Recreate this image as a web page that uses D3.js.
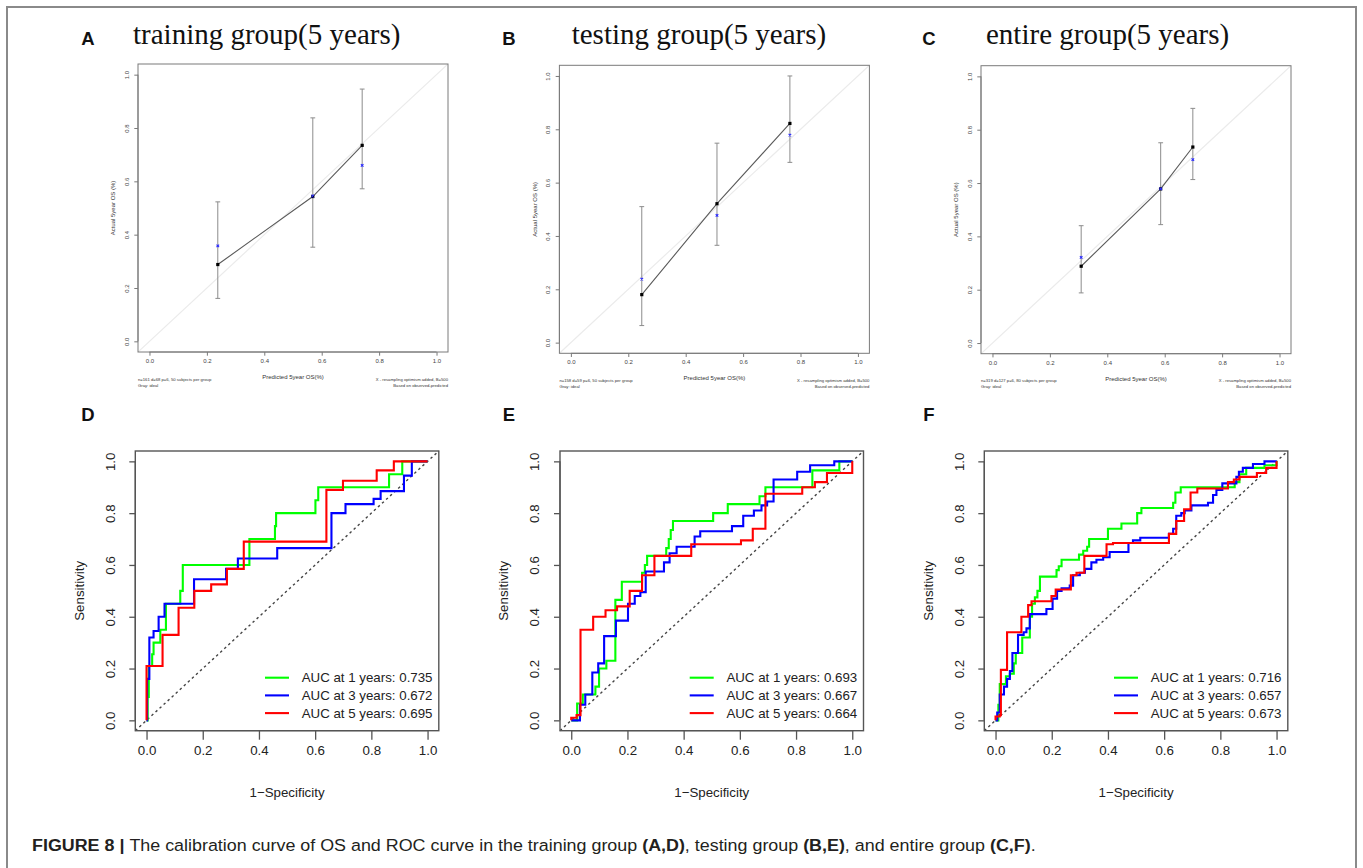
<!DOCTYPE html>
<html>
<head>
<meta charset="utf-8">
<script src="https://cdn.jsdelivr.net/npm/d3@7"></script>
<style>
  html, body { margin: 0; padding: 0; background: #fff; }
  svg { display: block; }
</style>
</head>
<body>
<svg id="fig" width="1363" height="868"></svg>
<script>
// ---------- Calibration curves (5-year OS) ----------
const calibTitles = ["training group(5 years)", "testing group(5 years)", "entire group(5 years)"];
const calibLetters = ["A", "B", "C"];
const calibPredicted = [[0.238, 0.569, 0.741], [0.247, 0.509, 0.763], [0.309, 0.586, 0.698]];
const calibObserved  = [[0.288, 0.543, 0.735], [0.180, 0.521, 0.822], [0.288, 0.578, 0.735]];
const calibCorrected = [[0.358, 0.545, 0.660], [0.238, 0.477, 0.778], [0.321, 0.578, 0.688]];
const calibLower     = [[0.161, 0.353, 0.572], [0.064, 0.365, 0.676], [0.188, 0.444, 0.613]];
const calibUpper     = [[0.523, 0.838, 0.946], [0.510, 0.748, 1.000], [0.440, 0.751, 0.880]];
const calibNotes = [
  "n=161 d=68 p=6, 50 subjects per group",
  "n=158 d=59 p=6, 50 subjects per group",
  "n=319 d=127 p=6, 80 subjects per group"
];
const calibTicks = [0, 0.2, 0.4, 0.6, 0.8, 1.0];

// ---------- Time-dependent ROC curves: [1-specificity, sensitivity] ----------
const rocLetters = ["D", "E", "F"];
const rocYears = [1, 3, 5];
const rocColors = ["#00ff00", "#0000ff", "#ff0000"];
const rocTicks = [0, 0.2, 0.4, 0.6, 0.8, 1.0];

const trainRoc1 = [[0,0],[0.004,0.09],[0.008,0.21],[0.02,0.255],[0.025,0.30],[0.049,0.35],[0.069,0.45],[0.12,0.50],[0.129,0.60],[0.366,0.70],[0.457,0.75],[0.461,0.80],[0.601,0.85],[0.611,0.90],[0.863,0.95],[0.91,1.0],[1,1]];
const trainRoc3 = [[0,0],[0.002,0.16],[0.01,0.32],[0.025,0.345],[0.043,0.40],[0.064,0.45],[0.169,0.545],[0.283,0.585],[0.325,0.625],[0.465,0.665],[0.658,0.80],[0.708,0.835],[0.808,0.855],[0.833,0.885],[0.916,0.945],[0.944,1.0],[1,1]];
const trainRoc5 = [[0,0],[0,0.21],[0.057,0.33],[0.114,0.435],[0.17,0.50],[0.23,0.525],[0.286,0.585],[0.346,0.69],[0.64,0.89],[0.699,0.925],[0.819,0.965],[0.88,1.0],[1,1]];

const testRoc1 = [[0,0],[0.021,0.065],[0.041,0.10],[0.086,0.13],[0.099,0.20],[0.125,0.23],[0.157,0.465],[0.18,0.535],[0.252,0.57],[0.262,0.60],[0.27,0.635],[0.338,0.665],[0.347,0.70],[0.354,0.735],[0.362,0.77],[0.505,0.80],[0.557,0.835],[0.67,0.865],[0.691,0.90],[0.858,0.965],[0.954,1.0],[1,1]];
const testRoc3 = [[0,0],[0.031,0.06],[0.05,0.10],[0.075,0.185],[0.096,0.22],[0.117,0.325],[0.159,0.385],[0.202,0.45],[0.226,0.48],[0.246,0.495],[0.265,0.575],[0.33,0.61],[0.35,0.645],[0.375,0.67],[0.439,0.71],[0.459,0.73],[0.572,0.75],[0.612,0.79],[0.65,0.81],[0.677,0.83],[0.697,0.845],[0.72,0.93],[0.804,0.96],[0.85,0.985],[0.936,1.0],[1,1]];
const testRoc5 = [[0,0],[0,0.01],[0.019,0.02],[0.033,0.35],[0.078,0.40],[0.122,0.425],[0.163,0.44],[0.208,0.50],[0.252,0.56],[0.296,0.635],[0.427,0.68],[0.604,0.695],[0.646,0.74],[0.691,0.875],[0.822,0.90],[0.867,0.92],[0.91,0.955],[1,1]];

const entireRoc1 = [[0,0],[0.01,0.06],[0.015,0.14],[0.037,0.17],[0.051,0.18],[0.065,0.22],[0.072,0.26],[0.095,0.32],[0.122,0.40],[0.13,0.45],[0.14,0.475],[0.149,0.50],[0.158,0.555],[0.217,0.58],[0.225,0.595],[0.235,0.62],[0.297,0.64],[0.312,0.655],[0.326,0.67],[0.333,0.70],[0.40,0.74],[0.448,0.76],[0.504,0.80],[0.519,0.82],[0.632,0.84],[0.64,0.88],[0.659,0.90],[0.851,0.92],[0.868,0.95],[0.892,0.975],[0.957,0.985],[1,1]];
const entireRoc3 = [[0,0],[0.006,0.03],[0.015,0.10],[0.03,0.13],[0.041,0.16],[0.051,0.19],[0.06,0.26],[0.08,0.33],[0.10,0.34],[0.11,0.355],[0.122,0.41],[0.181,0.43],[0.203,0.47],[0.219,0.50],[0.235,0.51],[0.264,0.52],[0.276,0.56],[0.30,0.57],[0.318,0.585],[0.341,0.61],[0.359,0.62],[0.383,0.63],[0.406,0.65],[0.473,0.685],[0.489,0.695],[0.515,0.705],[0.617,0.72],[0.632,0.74],[0.643,0.79],[0.661,0.80],[0.673,0.81],[0.697,0.83],[0.756,0.84],[0.774,0.87],[0.786,0.89],[0.807,0.915],[0.857,0.94],[0.866,0.96],[0.88,0.975],[0.916,0.99],[0.957,1.0],[1,1]];
const entireRoc5 = [[0,0],[0,0.015],[0.015,0.02],[0.019,0.195],[0.041,0.34],[0.092,0.40],[0.116,0.445],[0.128,0.46],[0.199,0.48],[0.214,0.505],[0.268,0.56],[0.288,0.57],[0.316,0.635],[0.395,0.68],[0.418,0.685],[0.617,0.72],[0.643,0.77],[0.671,0.815],[0.694,0.88],[0.718,0.895],[0.827,0.92],[0.848,0.93],[0.868,0.94],[0.93,0.955],[0.963,0.975],[1,1]];

const trainAuc  = [0.735, 0.672, 0.695];
const testAuc   = [0.693, 0.667, 0.664];
const entireAuc = [0.716, 0.657, 0.673];

const rocCurves = [
  [trainRoc1, trainRoc3, trainRoc5],
  [testRoc1, testRoc3, testRoc5],
  [entireRoc1, entireRoc3, entireRoc5]
];
const rocAucs = [trainAuc, testAuc, entireAuc];

// ---------- drawing ----------
const svg = d3.select("#fig");
const SANS = "'Liberation Sans', Arial, Helvetica, sans-serif";
const SERIF = "'Liberation Serif', 'Times New Roman', serif";

// outer figure frame
svg.append("path")
  .attr("d", "M7,880V7H1356V880")
  .attr("fill", "none").attr("stroke", "#8a8a8a").attr("stroke-width", 2);

function panelLetter(txt, cx, cy) {
  svg.append("text").attr("x", cx).attr("y", cy).attr("dy", "0.36em")
    .attr("text-anchor", "middle").attr("font-family", SANS)
    .attr("font-weight", "bold").attr("font-size", 18.5).attr("fill", "#111")
    .text(txt);
}

// --- calibration panels ---
const calibLeft = [138, 559.4, 981];
const calibTop = [64, 65.3, 65.7];
const letterX = [88, 509, 929];
const titleX = [133, 571.7, 986];

calibTitles.forEach((title, i) => {
  const L = calibLeft[i], T = calibTop[i], W = 310, H = 288;
  const x = d3.scaleLinear().domain([-0.04, 1.04]).range([L, L + W]);
  const y = d3.scaleLinear().domain([-0.04, 1.04]).range([T + H, T]);
  const g = svg.append("g");

  panelLetter(calibLetters[i], letterX[i], 38);
  svg.append("text").attr("x", titleX[i]).attr("y", 44)
    .attr("font-family", SERIF).attr("font-size", 29).attr("fill", "#111")
    .text(title);

  // ideal line
  const clipId = "cclip" + i;
  g.append("clipPath").attr("id", clipId).append("rect")
    .attr("x", L).attr("y", T).attr("width", W).attr("height", H);
  g.append("line").attr("clip-path", `url(#${clipId})`)
    .attr("x1", x(-0.04)).attr("y1", y(-0.04)).attr("x2", x(1.04)).attr("y2", y(1.04))
    .attr("stroke", "#ebebeb").attr("stroke-width", 1.2);

  // box
  g.append("rect").attr("x", L).attr("y", T).attr("width", W).attr("height", H)
    .attr("fill", "none").attr("stroke", "#7a7a7a").attr("stroke-width", 1);

  // x axis
  const xa = g.append("g").attr("transform", `translate(0,${T + H})`)
    .call(d3.axisBottom(x).tickValues(calibTicks).tickFormat(d3.format(".1f")).tickSize(3.7).tickPadding(3));
  xa.select(".domain").attr("d", `M${x(0)},0H${x(1)}`).attr("stroke", "#7a7a7a");
  xa.selectAll(".tick line").attr("stroke", "#7a7a7a");
  xa.selectAll("text").attr("font-family", SANS).attr("font-size", 6).attr("fill", "#444");

  // y axis with rotated labels
  const ya = g.append("g").attr("transform", `translate(${L},0)`)
    .call(d3.axisLeft(y).tickValues(calibTicks).tickFormat(d3.format(".1f")).tickSize(3.7));
  ya.select(".domain").attr("d", `M0,${y(0)}V${y(1)}`).attr("stroke", "#7a7a7a");
  ya.selectAll(".tick line").attr("stroke", "#7a7a7a");
  ya.selectAll("text")
    .attr("x", null).attr("dy", null)
    .attr("transform", "translate(-11.3,0) rotate(-90)")
    .attr("text-anchor", "middle").attr("dy", "0.35em")
    .attr("font-family", SANS).attr("font-size", 6).attr("fill", "#444");

  // axis titles
  g.append("text").attr("x", (x(0) + x(1)) / 2).attr("y", T + H + 25).attr("dy", "0.35em")
    .attr("text-anchor", "middle").attr("font-family", SANS).attr("font-size", 6).attr("fill", "#333")
    .text("Predicted 5year OS(%)");
  g.append("text").attr("transform", `translate(${L - 25},${(y(0) + y(1)) / 2}) rotate(-90)`)
    .attr("dy", "0.35em").attr("text-anchor", "middle").attr("font-family", SANS)
    .attr("font-size", 6).attr("fill", "#333").text("Actual 5year OS (%)");

  // footnotes
  const fn = [[calibNotes[i], "X - resampling optimism added, B=500"], ["Gray: ideal", "Based on observed-predicted"]];
  fn.forEach((pair, k) => {
    const yy = T + H + 27.3 + k * 6;
    g.append("text").attr("x", L).attr("y", yy).attr("dy", "0.35em")
      .attr("font-family", SANS).attr("font-size", 4.2).attr("fill", "#333").text(pair[0]);
    g.append("text").attr("x", L + W).attr("y", yy).attr("dy", "0.35em").attr("text-anchor", "end")
      .attr("font-family", SANS).attr("font-size", 4.2).attr("fill", "#333").text(pair[1]);
  });

  const pts = calibPredicted[i].map((p, k) => ({
    p, obs: calibObserved[i][k], cor: calibCorrected[i][k], lo: calibLower[i][k], hi: calibUpper[i][k]
  }));

  // error bars
  pts.forEach(d => {
    g.append("line").attr("x1", x(d.p)).attr("x2", x(d.p)).attr("y1", y(d.lo)).attr("y2", y(d.hi))
      .attr("stroke", "#8c8c8c").attr("stroke-width", 1);
    [d.lo, d.hi].forEach(v => g.append("line")
      .attr("x1", x(d.p) - 2.4).attr("x2", x(d.p) + 2.4).attr("y1", y(v)).attr("y2", y(v))
      .attr("stroke", "#8c8c8c").attr("stroke-width", 1));
  });

  // apparent calibration line
  g.append("path").datum(pts)
    .attr("d", d3.line().x(d => x(d.p)).y(d => y(d.obs)))
    .attr("fill", "none").attr("stroke", "#5a5a5a").attr("stroke-width", 1.1);

  // observed points
  g.selectAll(".obs").data(pts).enter().append("rect")
    .attr("x", d => x(d.p) - 1.6).attr("y", d => y(d.obs) - 1.6)
    .attr("width", 3.2).attr("height", 3.2).attr("fill", "#000");

  // bias-corrected points
  g.selectAll(".cor").data(pts).enter().append("path")
    .attr("d", d => { const cx = x(d.p), cy = y(d.cor), r = 1.3;
      return `M${cx - r},${cy - r}L${cx + r},${cy + r}M${cx - r},${cy + r}L${cx + r},${cy - r}`; })
    .attr("stroke", "#2a2aff").attr("stroke-width", 1.1);
});

// --- ROC panels ---
const rocLeft = [135.3, 560, 984.3];
const rocTop = 451;
rocCurves.forEach((curves, i) => {
  const L = rocLeft[i], T = rocTop, W = 303.5, H = 279.7;
  const x = d3.scaleLinear().domain([-0.04, 1.04]).range([L, L + W]);
  const y = d3.scaleLinear().domain([-0.04, 1.04]).range([T + H, T]);
  const g = svg.append("g");

  panelLetter(rocLetters[i], letterX[i], 414);

  // chance diagonal
  g.append("line").attr("x1", x(-0.04)).attr("y1", y(-0.04)).attr("x2", x(1.04)).attr("y2", y(1.04))
    .attr("stroke", "#444").attr("stroke-width", 1.4).attr("stroke-dasharray", "2.5,3");

  // curves
  const line = d3.line().x(d => x(d[0])).y(d => y(d[1])).curve(d3.curveStepAfter);
  curves.forEach((c, k) => {
    g.append("path").datum(c).attr("d", line)
      .attr("fill", "none").attr("stroke", rocColors[k]).attr("stroke-width", 2.1);
  });

  // box
  g.append("rect").attr("x", L).attr("y", T).attr("width", W).attr("height", H)
    .attr("fill", "none").attr("stroke", "#555").attr("stroke-width", 1.4);

  // axes
  const xa = g.append("g").attr("transform", `translate(0,${T + H})`)
    .call(d3.axisBottom(x).tickValues(rocTicks).tickFormat(d3.format(".1f")).tickSize(9).tickPadding(6));
  xa.select(".domain").attr("d", `M${x(0)},0H${x(1)}`).attr("stroke", "#555").attr("stroke-width", 1.3);
  xa.selectAll(".tick line").attr("stroke", "#555").attr("stroke-width", 1.3);
  xa.selectAll("text").attr("font-family", SANS).attr("font-size", 13.3).attr("fill", "#222");

  const ya = g.append("g").attr("transform", `translate(${L},0)`)
    .call(d3.axisLeft(y).tickValues(rocTicks).tickFormat(d3.format(".1f")).tickSize(6));
  ya.select(".domain").attr("d", `M0,${y(0)}V${y(1)}`).attr("stroke", "#555").attr("stroke-width", 1.3);
  ya.selectAll(".tick line").attr("stroke", "#555").attr("stroke-width", 1.3);
  ya.selectAll("text")
    .attr("x", null).attr("dy", null)
    .attr("transform", "translate(-25.3,0) rotate(-90)")
    .attr("text-anchor", "middle").attr("dy", "0.35em")
    .attr("font-family", SANS).attr("font-size", 13.3).attr("fill", "#222");

  g.append("text").attr("x", (x(0) + x(1)) / 2).attr("y", T + H + 62).attr("dy", "0.35em")
    .attr("text-anchor", "middle").attr("font-family", SANS).attr("font-size", 13.3).attr("fill", "#222")
    .text("1\u2212Specificity");
  g.append("text").attr("transform", `translate(${L - 56.3},${(y(0) + y(1)) / 2}) rotate(-90)`)
    .attr("dy", "0.35em").attr("text-anchor", "middle").attr("font-family", SANS)
    .attr("font-size", 13.3).attr("fill", "#222").text("Sensitivity");

  // legend
  rocYears.forEach((yr, k) => {
    const yy = T + H - 53 + k * 17.7;
    g.append("line").attr("x1", L + 129.7).attr("x2", L + 153.7).attr("y1", yy).attr("y2", yy)
      .attr("stroke", rocColors[k]).attr("stroke-width", 2.1);
    g.append("text").attr("x", L + 166.4).attr("y", yy).attr("dy", "0.35em")
      .attr("font-family", SANS).attr("font-size", 13.3).attr("fill", "#222")
      .text(`AUC at ${yr} years: ${rocAucs[i][k].toFixed(3)}`);
  });
});

// --- caption (condensed horizontally to the column width) ---
const capX = 32, capY = 851, capWidth = 1003;
const cap = svg.append("text").attr("x", 0).attr("y", 0)
  .attr("font-family", SANS).attr("font-size", 16.8).attr("fill", "#231f20");
const capParts = [
  ["FIGURE 8 | ", true], ["The calibration curve of OS and ROC curve in the training group ", false],
  ["(A,D)", true], [", testing group ", false], ["(B,E)", true], [", and entire group ", false],
  ["(C,F)", true], [".", false]
];
capParts.forEach(([t, b]) => cap.append("tspan").attr("font-weight", b ? "bold" : "normal").text(t));
const capLen = cap.node().getComputedTextLength();
cap.attr("transform", `translate(${capX},${capY}) scale(${capWidth / capLen},1)`);
</script>
</body>
</html>
